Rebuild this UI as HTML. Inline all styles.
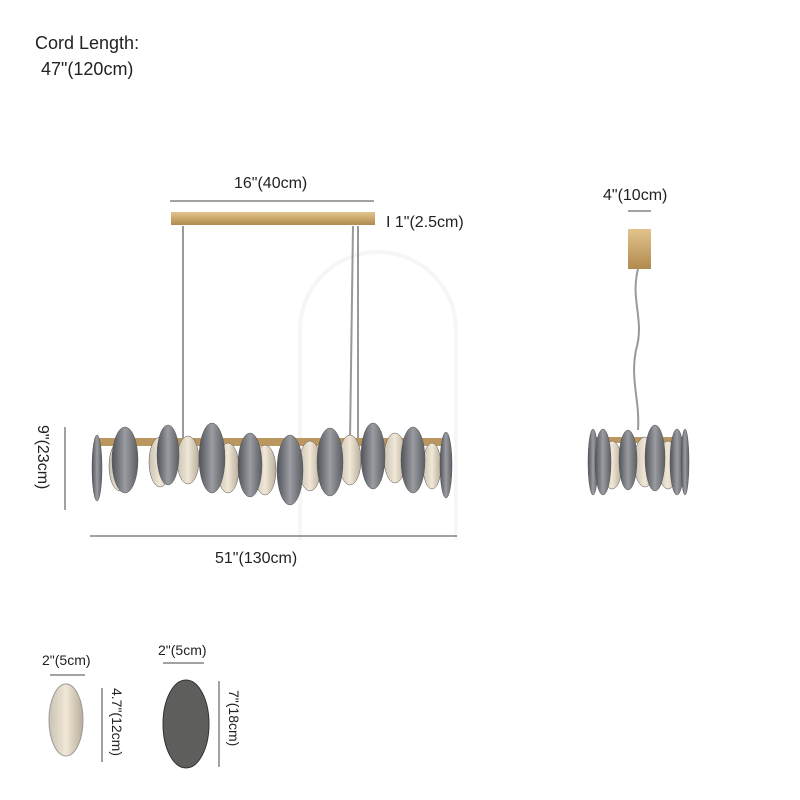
<!DOCTYPE html>
<html><head><style>body{margin:0;background:#fff}svg{display:block}text{font-family:"Liberation Sans",sans-serif;fill:#222}</style></head><body>
<svg width="800" height="800" viewBox="0 0 800 800">
<defs>
<linearGradient id="sm" x1="0" x2="1"><stop offset="0" stop-color="#50535a"/><stop offset=".5" stop-color="#9a9ca1"/><stop offset="1" stop-color="#5a5d62"/></linearGradient>
<linearGradient id="cl" x1="0" x2="1"><stop offset="0" stop-color="#c9c2b4"/><stop offset=".5" stop-color="#f1e7d6"/><stop offset="1" stop-color="#b8ad9a"/></linearGradient>
<linearGradient id="gd" x1="0" x2="0" y1="0" y2="1"><stop offset="0" stop-color="#e3c48d"/><stop offset="1" stop-color="#b08a4e"/></linearGradient>
</defs>
<path d="M300 540 V330 A78 78 0 0 1 456 330 V540" fill="none" stroke="#f6f6f6" stroke-width="4"/>
<text x="35" y="49" font-size="18">Cord Length:</text>
<text x="41" y="75" font-size="18">47"(120cm)</text>
<text x="234" y="188" font-size="16">16"(40cm)</text>
<line x1="170" y1="201" x2="374" y2="201" stroke="#444"/>
<rect x="171" y="212" width="204" height="13" fill="url(#gd)"/>
<text x="386" y="227" font-size="16">I 1"(2.5cm)</text>
<line x1="183" y1="226" x2="183" y2="440" stroke="#999" stroke-width="2"/>
<line x1="353" y1="226" x2="350" y2="440" stroke="#999" stroke-width="2"/>
<line x1="358" y1="226" x2="358" y2="440" stroke="#999" stroke-width="2"/>
<rect x="95" y="438" width="355" height="8" fill="#b9975e"/>
<g stroke="#555" stroke-width=".5">
<ellipse cx="120" cy="466" rx="11" ry="25" fill="url(#cl)"/><ellipse cx="160" cy="462" rx="11" ry="25" fill="url(#cl)"/><ellipse cx="188" cy="460" rx="11" ry="24" fill="url(#cl)"/><ellipse cx="228" cy="468" rx="11" ry="25" fill="url(#cl)"/><ellipse cx="265" cy="470" rx="11" ry="25" fill="url(#cl)"/><ellipse cx="310" cy="466" rx="11" ry="25" fill="url(#cl)"/><ellipse cx="350" cy="460" rx="11" ry="25" fill="url(#cl)"/><ellipse cx="395" cy="458" rx="11" ry="25" fill="url(#cl)"/><ellipse cx="432" cy="466" rx="9" ry="23" fill="url(#cl)"/>
<ellipse cx="97" cy="468" rx="5" ry="33" fill="url(#sm)"/><ellipse cx="125" cy="460" rx="13" ry="33" fill="url(#sm)"/><ellipse cx="168" cy="455" rx="11" ry="30" fill="url(#sm)"/><ellipse cx="212" cy="458" rx="13" ry="35" fill="url(#sm)"/><ellipse cx="250" cy="465" rx="12" ry="32" fill="url(#sm)"/><ellipse cx="290" cy="470" rx="13" ry="35" fill="url(#sm)"/><ellipse cx="330" cy="462" rx="13" ry="34" fill="url(#sm)"/><ellipse cx="373" cy="456" rx="12" ry="33" fill="url(#sm)"/><ellipse cx="413" cy="460" rx="12" ry="33" fill="url(#sm)"/><ellipse cx="446" cy="465" rx="6" ry="33" fill="url(#sm)"/>
</g>
<line x1="65" y1="427" x2="65" y2="510" stroke="#444"/>
<text transform="translate(38,425) rotate(90)" font-size="16">9"(23cm)</text>
<line x1="90" y1="536" x2="457" y2="536" stroke="#444"/>
<text x="215" y="563" font-size="16">51"(130cm)</text>
<text x="603" y="200" font-size="16">4"(10cm)</text>
<line x1="628" y1="211" x2="651" y2="211" stroke="#444"/>
<rect x="628" y="229" width="23" height="40" fill="url(#gd)"/>
<path d="M638 269 C630 300 645 320 636 350 C630 380 640 400 638 430" stroke="#999" stroke-width="2" fill="none"/>
<rect x="592" y="437" width="95" height="6" fill="#b9975e"/>
<g stroke="#555" stroke-width=".5">
<ellipse cx="612" cy="465" rx="10" ry="24" fill="url(#cl)"/><ellipse cx="645" cy="462" rx="11" ry="25" fill="url(#cl)"/><ellipse cx="668" cy="465" rx="10" ry="24" fill="url(#cl)"/>
<ellipse cx="593" cy="462" rx="5" ry="33" fill="url(#sm)"/><ellipse cx="603" cy="462" rx="8" ry="33" fill="url(#sm)"/><ellipse cx="628" cy="460" rx="9" ry="30" fill="url(#sm)"/><ellipse cx="655" cy="458" rx="10" ry="33" fill="url(#sm)"/><ellipse cx="677" cy="462" rx="7" ry="33" fill="url(#sm)"/><ellipse cx="685" cy="462" rx="4" ry="33" fill="url(#sm)"/>
</g>
<text x="42" y="665" font-size="14">2"(5cm)</text>
<line x1="50" y1="675" x2="85" y2="675" stroke="#444"/>
<ellipse cx="66" cy="720" rx="17" ry="36" fill="url(#cl)" stroke="#999"/>
<line x1="102" y1="688" x2="102" y2="762" stroke="#444"/>
<text transform="translate(112,688) rotate(90)" font-size="14">4.7"(12cm)</text>
<text x="158" y="655" font-size="14">2"(5cm)</text>
<line x1="163" y1="663" x2="204" y2="663" stroke="#444"/>
<ellipse cx="186" cy="724" rx="23" ry="44" fill="#5e5e5c" stroke="#333"/>
<line x1="219" y1="681" x2="219" y2="767" stroke="#444"/>
<text transform="translate(229,690) rotate(90)" font-size="14">7"(18cm)</text>
</svg>
</body></html>
